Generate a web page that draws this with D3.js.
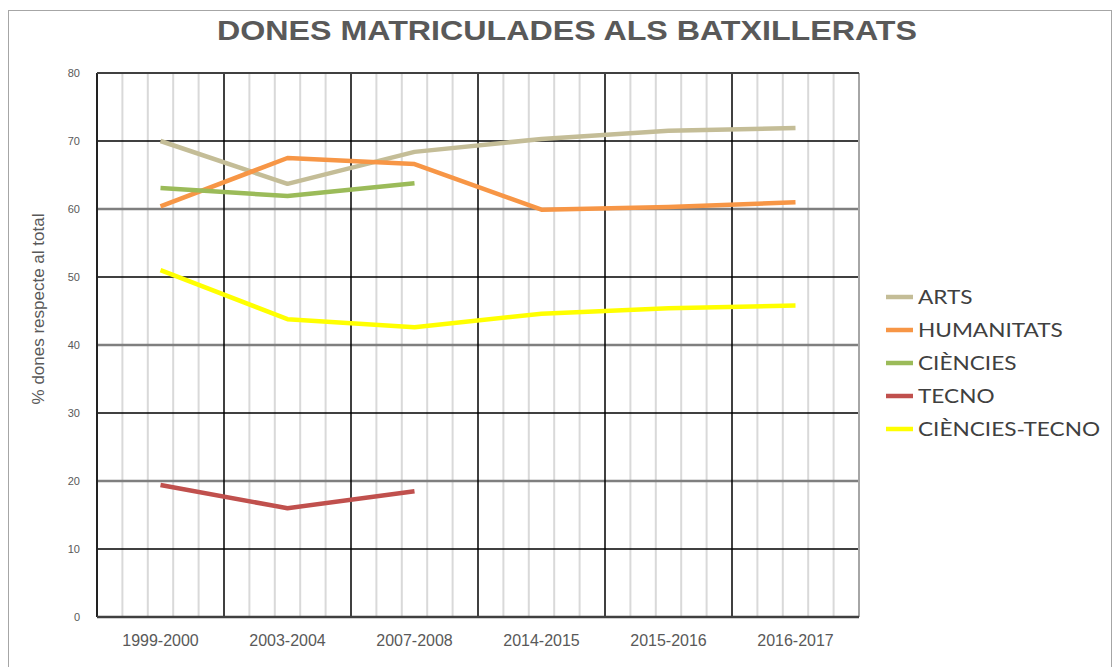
<!DOCTYPE html>
<html><head><meta charset="utf-8">
<script src="https://cdn.jsdelivr.net/npm/d3@7"></script>
<style>body{margin:0;background:#fff;} svg{display:block;}</style>
</head><body>
<script>
const categories = ["1999-2000","2003-2004","2007-2008","2014-2015","2015-2016","2016-2017"];
const seriesNames = ["ARTS","HUMANITATS","CIÈNCIES","TECNO","CIÈNCIES-TECNO"];
const arts = [70.0, 63.7, 68.4, 70.3, 71.5, 71.9];
const humanitats = [60.4, 67.5, 66.6, 59.9, 60.3, 61.0];
const ciencies = [63.1, 61.9, 63.8, null, null, null];
const tecno = [19.4, 16.0, 18.5, null, null, null];
const cienciesTecno = [51.0, 43.8, 42.6, 44.6, 45.4, 45.8];
const colors = ["#c4bd97","#f79646","#9bbb59","#c0504d","#ffff00"];
const yTicks = [0,10,20,30,40,50,60,70,80];

const seriesValues = [arts, humanitats, ciencies, tecno, cienciesTecno];

const W = 1113, H = 667;
const svg = d3.select("body").append("svg").attr("width", W).attr("height", H);
svg.append("rect").attr("x",8.5).attr("y",10.5).attr("width",W-10).attr("height",H).attr("fill","#fff").attr("stroke","#a6a6a6");

const L = 97, R = 859, T = 73, B = 617;
const x = d3.scaleBand().domain(categories).range([L, R]);
const y = d3.scaleLinear().domain([0, 80]).range([B, T]);
const g = svg.append("g");

// minor vertical grid
categories.forEach(c => {
  for (let i = 1; i <= 4; i++) {
    const xx = x(c) + x.bandwidth() * i / 5;
    g.append("line").attr("x1", xx).attr("x2", xx).attr("y1", T).attr("y2", B)
      .attr("stroke", "#d9d9d9").attr("stroke-width", 2);
  }
});
// horizontal grid
yTicks.forEach(t => {
  const even = (t % 20 === 0) && t !== 0 && t !== 80;
  g.append("line").attr("x1", L).attr("x2", R).attr("y1", y(t)).attr("y2", y(t))
    .attr("stroke", even ? "#7f7f7f" : "#000").attr("stroke-width", even ? 2.5 : 1.5);
});
// major vertical lines
categories.forEach((c, i) => {
  if (i === 0) return;
  g.append("line").attr("x1", x(c)).attr("x2", x(c)).attr("y1", T).attr("y2", B)
    .attr("stroke", "#000").attr("stroke-width", 1.5);
});
// borders
g.append("line").attr("x1", L).attr("x2", L).attr("y1", T).attr("y2", B).attr("stroke", "#222").attr("stroke-width", 2);
g.append("line").attr("x1", R).attr("x2", R).attr("y1", T).attr("y2", B).attr("stroke", "#a6a6a6").attr("stroke-width", 2);
g.append("line").attr("x1", L).attr("x2", R).attr("y1", T).attr("y2", T).attr("stroke", "#404040").attr("stroke-width", 2);
g.append("line").attr("x1", L).attr("x2", R).attr("y1", B).attr("y2", B).attr("stroke", "#404040").attr("stroke-width", 2.5);

// axes (labels only)
const yAxis = svg.append("g").attr("transform", `translate(${L - 14},0)`)
  .call(d3.axisLeft(y).tickValues(yTicks).tickSize(0));
yAxis.select(".domain").remove();
yAxis.selectAll("text").attr("font-family", "Liberation Sans, Arial, sans-serif").attr("font-size", 11).attr("fill", "#595959");

const xAxis = svg.append("g").attr("transform", `translate(0,${B + 15})`)
  .call(d3.axisBottom(x).tickSize(0));
xAxis.select(".domain").remove();
xAxis.selectAll("text").attr("font-family", "Liberation Sans, Arial, sans-serif").attr("font-size", 16).attr("fill", "#595959");

// lines
const line = d3.line().defined(d => d != null)
  .x((d, i) => x(categories[i]) + x.bandwidth() / 2).y(d => y(d));
seriesValues.forEach((vals, k) => {
  svg.append("path").datum(vals).attr("d", line).attr("fill", "none")
    .attr("stroke", colors[k]).attr("stroke-width", 4.5).attr("stroke-linejoin", "round");
});

// title
svg.append("text").attr("x", 567).attr("y", 40).attr("text-anchor", "middle")
  .attr("font-family", "Liberation Sans, Arial, sans-serif").attr("font-weight", "bold")
  .attr("font-size", 28).attr("fill", "#595959")
  .attr("textLength", 700).attr("lengthAdjust", "spacingAndGlyphs")
  .text("DONES MATRICULADES ALS BATXILLERATS");

// y label
svg.append("text").attr("transform", "translate(44,309) rotate(-90)").attr("text-anchor", "middle")
  .attr("font-family", "Liberation Sans, Arial, sans-serif").attr("font-size", 17).attr("fill", "#595959")
  .text("% dones respecte al total");

// legend
seriesNames.forEach((n, k) => {
  const ly = 297 + k * 33;
  svg.append("line").attr("x1", 886).attr("x2", 913).attr("y1", ly).attr("y2", ly)
    .attr("stroke", colors[k]).attr("stroke-width", 4.5);
  svg.append("text").attr("transform", `translate(918,${ly + 6.5}) scale(1.19,1)`)
    .attr("font-family", "Lato, 'Open Sans', sans-serif").attr("font-size", 19).attr("fill", "#404040").text(n);
});
</script>
</body></html>
